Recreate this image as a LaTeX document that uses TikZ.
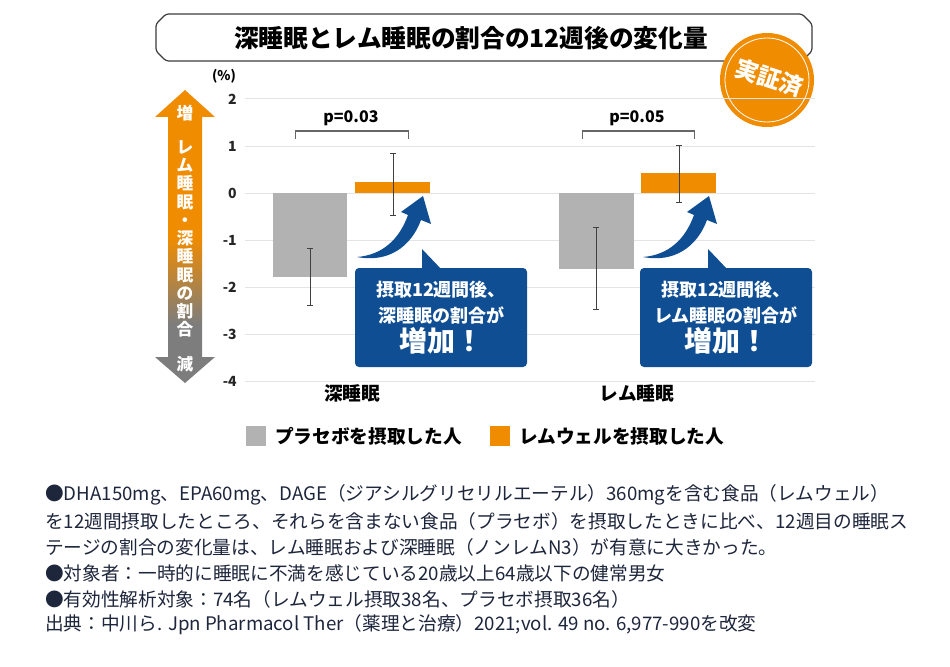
\documentclass[tikz,border=0pt]{standalone}
\usepackage{fontspec}
\setmainfont{Noto Sans CJK JP}
\usetikzlibrary{positioning}
\definecolor{remorange}{RGB}{240,140,0}
\definecolor{placebogray}{RGB}{178,178,178}
\definecolor{calloutblue}{RGB}{16,78,148}
\definecolor{arrowgray}{RGB}{125,125,125}
\definecolor{gridgray}{RGB}{228,228,228}
\definecolor{notenavy}{RGB}{30,38,60}
\definecolor{framegray}{RGB}{60,60,60}
\pgfdeclareverticalshading{ratioshade}{100bp}{color(0bp)=(arrowgray); color(35bp)=(arrowgray); color(50bp)=(remorange); color(100bp)=(remorange)}
\newcommand\errbar[3]{\draw[errline] (#1,#2) -- (#1,#3) (#1-3,#2) -- (#1+3,#2) (#1-3,#3) -- (#1+3,#3);}
\begin{document}
\begin{tikzpicture}[x=0.75pt, y=-0.75pt,
  gridline/.style={draw=gridgray, line width=0.75pt},
  ticklabel/.style={anchor=east, inner sep=0pt, text=black!85, font=\bfseries\fontsize{10.5}{12}\selectfont},
  placebo/.style={fill=placebogray},
  remwell/.style={fill=remorange},
  errline/.style={draw=black!75, line width=0.6pt},
  bracket/.style={draw=black!60, line width=0.75pt},
  pvalue/.style={inner sep=0pt, font=\bfseries\fontsize{12}{14}\selectfont},
  category/.style={inner sep=0pt, font=\bfseries\fontsize{14}{16}\selectfont},
  callout/.style={fill=calloutblue, text=white, rounded corners=3pt, minimum width=129pt,
    minimum height=74.25pt, align=center, inner sep=0pt, font=\bfseries\fontsize{13.5}{19.5}\selectfont},
  swoosh/.style={fill=calloutblue},
  arrowtext/.style={text=white, inner sep=0pt, align=center, font=\bfseries\fontsize{12.5}{13.7}\selectfont},
  legendbox/.style={minimum size=15pt, inner sep=0pt},
  legendtext/.style={inner sep=0pt, font=\bfseries\fontsize{14}{16}\selectfont},
  note/.style={anchor=west, inner sep=0pt, text=notenavy, font=\fontsize{14}{16}\selectfont},
  ]
\useasboundingbox (0,0) rectangle (950,667);
\fill[white] (0,0) rectangle (950,667);

% title
\draw[framegray, line width=0.9pt, rounded corners=2pt] (166,14) -- (802,14) -- (812,24) -- (812,51)
  -- (802,61) -- (166,61) -- (156,51) -- (156,24) -- cycle;
\node[inner sep=0pt, font=\bfseries\fontsize{18.5}{20}\selectfont] (title) at (471,38)
  {深睡眠とレム睡眠の割合の12週後の変化量};

% badge
\node[circle, fill=remorange, minimum size=70.5pt, inner sep=0pt] (badge) at (767,80) {};
\draw[white, line width=0.6pt] (badge.center) circle [radius=31.5pt];
\node[rotate=-18, text=white, inner sep=0pt, font=\bfseries\fontsize{17.5}{18}\selectfont] (badgetext) at (769,78) {実証済};

% axis
\foreach \v [count=\i] in {2,1,0,-1,-2,-3,-4} {
  \draw[gridline] (245,193-47*\v) -- (815,193-47*\v);
  \node[ticklabel] (tick\i) at (237,193-47*\v) {\v};
}
\node[inner sep=0pt, font=\bfseries\fontsize{10}{12}\selectfont] (unit) at (224,76) {(\%)};

% deep sleep
\fill[placebo] (273,193) rectangle (347,277);
\fill[remwell] (355,193) rectangle (430,182);
\errbar{310}{248}{305}
\errbar{393}{153}{215}
\draw[bracket] (295,139) -- (295,131) -- (408,131) -- (408,139);
\node[pvalue] (pDeep) at (351,118) {p=0.03};
\node[category] (catDeep) at (352,393) {深睡眠};

% REM sleep
\fill[placebo] (559,193) rectangle (634,269);
\fill[remwell] (641,193) rectangle (716,173);
\errbar{596}{227}{309}
\errbar{679}{145}{202}
\draw[bracket] (582,139) -- (582,131) -- (694,131) -- (694,139);
\node[pvalue] (pRem) at (637,118) {p=0.05};
\node[category] (catRem) at (637,393) {レム睡眠};

% callouts
\foreach \dx in {0,286} {
  \fill[swoosh] (357+\dx,257) .. controls (382+\dx,255) and (399+\dx,240) .. (408+\dx,215)
    -- (401+\dx,212) -- (423+\dx,196) -- (431+\dx,224) -- (421+\dx,220)
    .. controls (411+\dx,247) and (388+\dx,263) .. (357+\dx,257) -- cycle;
  \fill[swoosh] (422+\dx,270) -- (422+\dx,249) -- (442+\dx,270) -- cycle;
}
\node[callout] (callDeep) at (441,317.5)
  {摂取12週間後、\\深睡眠の割合が\\[2.4pt]{\fontsize{21}{24}\selectfont 増加！}};
\node[callout] (callRem) at (726,317.5)
  {摂取12週間後、\\レム睡眠の割合が\\[2.4pt]{\fontsize{21}{24}\selectfont 増加！}};

% left arrow
\shade[shading=ratioshade] (185,90) -- (215,117) -- (202,117) -- (202,357) -- (215,357)
  -- (185,383) -- (155,357) -- (168,357) -- (168,117) -- (155,117) -- cycle;
\node[arrowtext] (incLabel) at (185,113) {増};
\node[arrowtext] (ratioLabel) at (185,239) {レ\\ム\\睡\\眠\\・\\深\\睡\\眠\\の\\割\\合};
\node[arrowtext] (decLabel) at (185,364) {減};

% legend
\node[legendbox, fill=placebogray] (legPlacebo) at (256,436) {};
\node[legendtext, right=6.5pt of legPlacebo] (legPlaceboText) {プラセボを摂取した人};
\node[legendbox, fill=remorange] (legRem) at (500,436) {};
\node[legendtext, right=6.5pt of legRem] (legRemText) {レムウェルを摂取した人};

% notes
\node[note] (note1) at (45,495) {●DHA150mg、EPA60mg、DAGE（ジアシルグリセリルエーテル）360mgを含む食品（レムウェル）};
\node[note] (note2) at (45,521) {を12週間摂取したところ、それらを含まない食品（プラセボ）を摂取したときに比べ、12週目の睡眠ス};
\node[note] (note3) at (45,547) {テージの割合の変化量は、レム睡眠および深睡眠（ノンレムN3）が有意に大きかった。};
\node[note] (note4) at (45,573) {●対象者：一時的に睡眠に不満を感じている20歳以上64歳以下の健常男女};
\node[note] (note5) at (45,599) {●有効性解析対象：74名（レムウェル摂取38名、プラセボ摂取36名）};
\node[note] (note6) at (45,625) {出典：中川ら. Jpn Pharmacol Ther（薬理と治療）2021;vol. 49 no. 6,977-990を改変};
\end{tikzpicture}
\end{document}
